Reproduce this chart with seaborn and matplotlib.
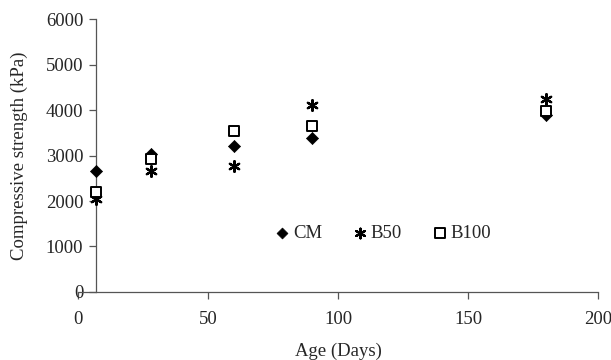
import pandas as pd
import matplotlib
matplotlib.use("Agg")
import matplotlib.pyplot as plt
import seaborn as sns

# Dados
age_days = [7, 28, 60, 90, 180]
cm = [2655, 3040, 3220, 3380, 3900]
b50 = [2050, 2655, 2760, 4100, 4240]
b100 = [2190, 2930, 3540, 3660, 3975]

df = pd.DataFrame({
    "Age": age_days * 3,
    "Strength": cm + b50 + b100,
    "Mix": ["CM"] * 5 + ["B50"] * 5 + ["B100"] * 5,
})

sns.set_style("white")
plt.rcParams["font.family"] = ["Liberation Serif", "DejaVu Serif"]

fig = plt.figure(figsize=(6.11, 3.6), dpi=100)
ax = fig.add_axes([0.1277, 0.189, 0.851, 0.758])

sns.scatterplot(data=df[df["Mix"] == "CM"], x="Age", y="Strength", ax=ax,
                marker="D", s=38, color="black", edgecolor="black", label="CM", zorder=3)
sns.scatterplot(data=df[df["Mix"] == "B50"], x="Age", y="Strength", ax=ax,
                marker=(6, 2, 0), s=60, color="black", linewidth=1.6, label="B50", zorder=4)
sns.scatterplot(data=df[df["Mix"] == "B100"], x="Age", y="Strength", ax=ax,
                marker="s", s=60, facecolor="white", edgecolor="black", linewidth=1.4,
                label="B100", zorder=5)

ax.set_xlim(0, 200)
ax.set_ylim(0, 6000)
ax.set_xticks([0, 50, 100, 150, 200])
ax.set_yticks(range(0, 6001, 1000))

for s in ["top", "right"]:
    ax.spines[s].set_visible(False)
ax.spines["left"].set_position(("data", 6.8))
for s in ["left", "bottom"]:
    ax.spines[s].set_color("#555555")
    ax.spines[s].set_linewidth(0.9)

ax.tick_params(axis="y", left=True, direction="out", length=5, width=0.9,
               color="#555555", pad=4, labelsize=13.5)
ax.tick_params(axis="x", bottom=True, direction="out", length=5, width=0.9,
               color="#555555", pad=9, labelsize=13.5)
ax.set_xlabel("Age (Days)", fontsize=13.5, labelpad=10)
ax.set_ylabel("Compressive strength (kPa)", fontsize=13.5)
ax.yaxis.set_label_coords(-0.097, 0.5)

ax.legend(ncol=3, frameon=False, loc="center", bbox_to_anchor=(0.585, 0.215),
          fontsize=13.5, handletextpad=0.05, columnspacing=1.55, handlelength=1.0,
          borderaxespad=0, markerscale=0.9)

plt.savefig("out.png", dpi=100)
plt.close()
